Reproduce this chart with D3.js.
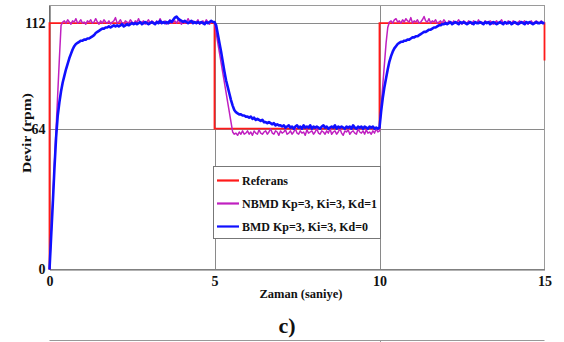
<!DOCTYPE html>
<html>
<head>
<meta charset="utf-8">
<script src="https://cdn.jsdelivr.net/npm/d3@7"></script>
<style>
  html, body { margin: 0; padding: 0; background: #fff; }
  svg { display: block; }
</style>
</head>
<body>
<svg id="chart" width="564" height="342"></svg>
<script>
// ---- data ----
const xTicks = [0, 5, 10, 15];
const yTicks = [0, 64, 112];
const seriesNames = ["Referans", "NBMD Kp=3, Ki=3, Kd=1", "BMD Kp=3, Ki=3, Kd=0"];
const seriesColors = ["#ff1a1a", "#c020c0", "#1010ff"];

// reference (step signal)
const refTime  = [0, 0, 5, 5, 10, 10, 15, 15];
const refValue = [0, 112, 112, 64, 64, 112, 112, 95];

// sample instants for measured responses (every 0.05 s, 0 .. 15 s)
const sampleTime = d3.range(301).map(i => i / 20);

// NBMD response (magenta)
const nbmdValue = [
  0, 16, 32, 48, 64, 80, 96, 111,
  112.5, 113, 112, 113.5, 112.5, 111.5, 113, 112.5, 114, 112,
  112.5, 113.5, 112, 112.5, 111.5, 113, 112.5, 113.5, 112, 112.5,
  114, 112.5, 111.5, 113, 112, 113.5, 112.5, 112, 113, 111.5,
  112.5, 113, 114.5, 112, 112.5, 113.5, 112, 111.5, 113, 112.5,
  112, 113.5, 112.5, 111.5, 113, 112.5, 114, 112, 112.5, 113,
  111.5, 112.5, 113.5, 112, 113, 112.5, 111.5, 113, 112, 114,
  112.5, 112, 113, 111.5, 112.5, 113.5, 112, 112.5, 113, 112,
  113.5, 112.5, 111.5, 113, 112, 112.5, 114, 112.5, 112, 113,
  112, 112.5, 113.5, 111.5, 112.5, 113, 112, 113.5, 112.5, 111.5,
  113, 112.5, 112,
  107.5, 103, 98.5, 94, 89.5, 85, 80.5, 76, 71.5, 67, 62.5,
  61.5, 62, 61, 62.5, 61.5, 63, 61.5, 62, 63, 61.5,
  62.5, 61, 63, 62, 61.5, 63.5, 62, 61.5, 62.5, 63,
  61.5, 62.5, 64, 62, 61.5, 63, 62.5, 61, 63, 62,
  62.5, 63.5, 61.5, 62, 63, 61.5, 62.5, 64, 62, 61.5,
  63, 62, 62.5, 61, 63.5, 62, 62.5, 63, 61.5, 62.5,
  64, 62, 61.5, 63, 62.5, 61.5, 63, 62, 64, 61.5,
  62.5, 63, 61.5, 62.5, 64, 62, 61, 63, 62.5, 63.5,
  61.5, 62.5, 63, 62, 61.5, 64, 62.5, 62, 63, 61.5,
  63.5, 62, 62.5, 61.5, 63, 62, 64, 62.5, 63,
  74, 84, 93.5, 103, 110,
  112.5, 113, 112, 113.5, 114, 112.5, 113, 112, 113.5, 112.5,
  114, 113, 112.5, 114.5, 112, 113, 112.5, 113.5, 112, 112.5,
  113.5, 115, 113, 112.5, 114, 112, 113, 112.5, 113.5, 112,
  112.5, 113, 112, 113.5, 112.5, 111.5, 113, 112.5, 112, 113,
  112, 112.5, 113.5, 112, 111.5, 113, 112.5, 112, 113, 112.5,
  111.5, 113, 112.5, 112, 113.5, 112, 112.5, 111.5, 113, 112.5,
  112, 113, 112.5, 111.5, 112.5, 113, 112, 112.5, 113.5, 112,
  112.5, 111.5, 113, 112.5, 112, 113, 112.5, 111.5, 112.5, 113,
  112, 112.5, 113, 112, 111.5, 112.5, 113, 112, 112.5, 113,
  112.5, 112, 113, 112.5, 112
];

// BMD response (blue)
const bmdValue = [
  0, 15, 30, 46, 60, 70, 76, 81, 85, 88,
  91, 93.5, 96, 98, 100, 101.5, 102.5, 103, 103.5, 104,
  104,
  104.5, 104.5, 105, 105, 105.5, 106, 106.5, 107.5, 108, 108.5,
  109, 109.5, 109.5, 110, 110, 110.5, 110, 110.5, 111, 110.5,
  111, 110.5, 111, 111.5, 110.5, 111, 111.5, 111, 111.5, 112,
  111.5, 112, 111.5, 112, 112.5, 111.5, 112, 112.5, 112, 111.5,
  112, 112.5, 112, 111.5, 112.5, 112, 113, 112, 112.5, 112,
  112.5, 112, 113, 112.5, 113.5, 114.5, 115, 114, 113.5, 113,
  112.5, 113, 112.5, 112, 112.5, 113, 112, 112.5, 112, 112.5,
  112, 112.5, 112, 111.5, 112.5, 112, 112.5, 113, 112.5, 112.5,
  111, 107, 103, 99, 94.5, 90, 86, 83, 80, 77,
  74.5, 72.5, 71.5, 71, 70.5, 70.5, 70, 70, 69.5, 69.5,
  69, 69.5, 68.5, 69, 68, 68.5, 68, 67.5, 68, 67,
  67, 66.5, 67, 66.5, 66, 66.5, 65.5, 66, 65.5, 65.5,
  65, 65.5, 64.5, 65, 65.5, 64.5, 65, 64, 65, 65.5,
  64.5, 65, 64, 65.5, 64.5, 65, 64.5, 65.5, 64, 65,
  64.5, 65, 64.5, 64, 65, 65.5, 64.5, 65, 64, 64.5,
  65, 64.5, 65.5, 64, 65, 64.5, 65, 64.5, 64, 65,
  64.5, 65, 64, 65.5, 64.5, 64, 65, 64.5, 65, 64,
  65, 64.5, 64, 65, 64.5, 65, 64, 64.5, 64, 64.5,
  72, 78, 83, 87, 91, 94.5, 97, 99, 100.5, 101.5,
  102.5, 103, 103.5, 103.5, 104, 104, 104.5, 104.5, 105, 105.5,
  105.5, 106, 106, 106.5, 107, 107.5, 108, 108, 108.5, 109,
  109, 109.5, 110, 110, 110.5, 111, 111, 111.5, 111.5, 112,
  111.5, 112, 112.5, 111.5, 112, 112.5, 112, 111.5, 112.5, 112,
  112.5, 112, 111.5, 112, 112.5, 112, 111.5, 112.5, 112, 112,
  112.5, 112, 111.5, 112.5, 112, 112.5, 111.5, 112, 112.5, 112,
  111.5, 112, 112.5, 112, 111.5, 112.5, 112, 112, 112.5, 111.5,
  112, 112.5, 112, 111.5, 112, 112.5, 112, 111.5, 112.5, 112,
  112.5, 112, 111.5, 112, 112.5, 112, 112, 112.5, 112, 112
];

// ---- drawing ----
const FONT = '"Liberation Serif", "Times New Roman", "DejaVu Serif", serif';
const svg = d3.select("#chart");
const pLeft = 49.5, pRight = 544.5, pTop = 5.5, pBottom = 269.5;

const x = d3.scaleLinear().domain([0, 15]).range([pLeft, pRight]);
const y = d3.scaleLinear().domain([0, 120]).range([pBottom, pTop]);

const gridColor = "#8a8a8a";

// grid lines
svg.append("g").selectAll("line").data(xTicks.filter(d => d > 0 && d < 15)).join("line")
  .attr("x1", d => Math.round(x(d)) + 0.5).attr("x2", d => Math.round(x(d)) + 0.5)
  .attr("y1", pTop).attr("y2", pBottom)
  .attr("stroke", gridColor).attr("stroke-width", 1);
svg.append("g").selectAll("line").data(yTicks.filter(d => d > 0)).join("line")
  .attr("x1", pLeft).attr("x2", pRight)
  .attr("y1", d => Math.round(y(d)) + 0.5).attr("y2", d => Math.round(y(d)) + 0.5)
  .attr("stroke", gridColor).attr("stroke-width", 1);

// frame
svg.append("rect").attr("x", pLeft).attr("y", pTop)
  .attr("width", pRight - pLeft).attr("height", pBottom - pTop)
  .attr("fill", "none").attr("stroke", "#9a9a9a").attr("stroke-width", 1);

// axes
const xAxis = d3.axisBottom(x).tickValues(xTicks).tickSize(0).tickPadding(7).tickFormat(d3.format("d"));
const yAxis = d3.axisLeft(y).tickValues(yTicks).tickSize(0).tickPadding(4).tickFormat(d3.format("d"));
const gx = svg.append("g").attr("transform", `translate(0,${pBottom})`).call(xAxis);
const gy = svg.append("g").attr("transform", `translate(${pLeft},0)`).call(yAxis);
[gx, gy].forEach(g => {
  g.attr("font-family", null);
  g.select(".domain").attr("stroke", "#555").attr("stroke-width", 1.2);
  g.selectAll("text").style("font-family", FONT)
    .style("font-weight", "bold").style("font-size", "14px").attr("fill", "#111");
});
gx.select(".domain").attr("stroke", "#666");

// lines
const line = d3.line().x(d => x(d[0])).y(d => y(d[1]));
const refData = refTime.map((t, i) => [t, refValue[i]]);
const nbmdData = sampleTime.map((t, i) => [t, nbmdValue[i]]);
const bmdData = sampleTime.map((t, i) => [t, bmdValue[i]]);

svg.append("path").datum(refData).attr("d", line)
  .attr("fill", "none").attr("stroke", seriesColors[0]).attr("stroke-width", 1.8);
svg.append("path").datum(nbmdData).attr("d", line)
  .attr("fill", "none").attr("stroke", seriesColors[1]).attr("stroke-width", 1.5)
  .attr("stroke-linejoin", "round");
svg.append("path").datum(bmdData).attr("d", line)
  .attr("fill", "none").attr("stroke", seriesColors[2]).attr("stroke-width", 2.6)
  .attr("stroke-linejoin", "round");

// text helper
function label(sel, size) {
  return sel.style("font-family", FONT).style("font-weight", "bold")
    .style("font-size", size + "px").attr("fill", "#111");
}

// legend
const legendLen = [46, 135, 126];
const lg = svg.append("g");
lg.append("rect").attr("x", 213.5).attr("y", 166.5).attr("width", 167).attr("height", 72)
  .attr("fill", "#fff").attr("stroke", "#777").attr("stroke-width", 1);
seriesNames.forEach((name, i) => {
  const cy = 180.5 + i * 23;
  lg.append("line").attr("x1", 217).attr("x2", 239).attr("y1", cy).attr("y2", cy)
    .attr("stroke", seriesColors[i]).attr("stroke-width", 2.2);
  label(lg.append("text"), 13).attr("x", 242).attr("y", cy + 4.5)
    .attr("textLength", legendLen[i]).attr("lengthAdjust", "spacingAndGlyphs").text(name);
});

// axis titles
label(svg.append("text"), 13).attr("transform", "translate(31,133) rotate(-90)")
  .attr("text-anchor", "middle").attr("textLength", 80).attr("lengthAdjust", "spacingAndGlyphs")
  .text("Devir (rpm)");
label(svg.append("text"), 13).attr("x", 301).attr("y", 298)
  .attr("text-anchor", "middle").attr("textLength", 83).attr("lengthAdjust", "spacingAndGlyphs")
  .text("Zaman (saniye)");
label(svg.append("text"), 22).attr("x", 287).attr("y", 333)
  .attr("text-anchor", "middle").text("c)");

// top border of next panel
svg.append("line").attr("x1", pLeft).attr("x2", pRight).attr("y1", 340.5).attr("y2", 340.5)
  .attr("stroke", "#999").attr("stroke-width", 1);
svg.append("line").attr("x1", Math.round(x(10)) + 0.5).attr("x2", Math.round(x(10)) + 0.5)
  .attr("y1", 340.5).attr("y2", 342).attr("stroke", "#999").attr("stroke-width", 1);
</script>
</body>
</html>
